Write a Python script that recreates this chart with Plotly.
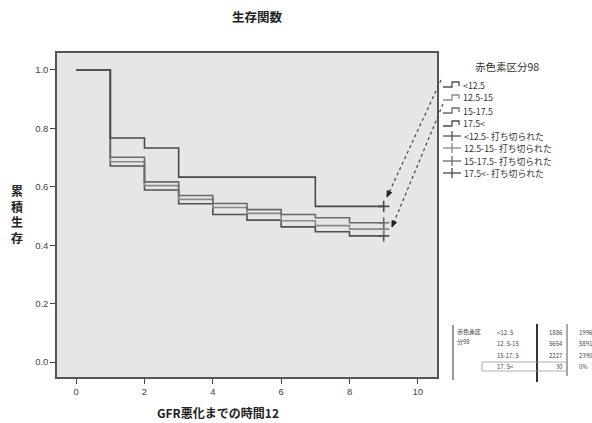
import plotly.graph_objects as go

# Kaplan-Meier survival estimates by hemoglobin category
times = [0, 1, 2, 3, 4, 5, 6, 7, 8, 9]
groups = ["<12.5", "12.5-15", "15-17.5", "17.5<"]
surv_lt125 = [1.0, 0.671, 0.589, 0.542, 0.505, 0.486, 0.463, 0.446, 0.432, 0.432]
surv_125_15 = [1.0, 0.686, 0.604, 0.557, 0.529, 0.509, 0.484, 0.467, 0.455, 0.455]
surv_15_175 = [1.0, 0.701, 0.617, 0.570, 0.543, 0.522, 0.505, 0.494, 0.477, 0.477]
surv_gt175 = [1.0, 0.767, 0.733, 0.633, 0.633, 0.633, 0.633, 0.533, 0.533, 0.533]
censor_time = [9, 9, 9, 9]

# Case summary fragment
table_labels = ["<12. 5", "12. 5-15", "15-17. 5", "17. 5<"]
table_counts = [1886, 5654, 2227, 30]
table_next = ["1996", "5891", "2390", "0%"]

series = [surv_lt125, surv_125_15, surv_15_175, surv_gt175]
colors = ["#505050", "#8a8a8a", "#6a6a6a", "#4a4a4a"]

FONT = "Noto Sans CJK JP"
W, H = 592, 423
L, R, T, B = 57, 437, 53, 377


def px(x):
    return (x - L) / (R - L)


def py(y):
    return (B - y) / (B - T)


def label(x, y, text, font, xanchor="left"):
    return dict(x=px(x), y=py(y), xref="paper", yref="paper", text=text,
                showarrow=False, xanchor=xanchor, yanchor="middle", font=font)


fig = go.Figure()
for name, s, c in zip(groups, series, colors):
    fig.add_trace(go.Scatter(x=times, y=s, mode="lines", line_shape="hv",
                             line=dict(color=c, width=1.6), name=name,
                             showlegend=False, hoverinfo="skip"))
for name, s, c, ct in zip(groups, series, colors, censor_time):
    fig.add_trace(go.Scatter(x=[ct], y=[s[times.index(ct)]], mode="markers",
                             marker=dict(symbol="cross-thin", size=8,
                                         line=dict(color=c, width=1.6)),
                             showlegend=False, hoverinfo="skip"))

shapes = []
annotations = []

# Legend
lf = dict(family=FONT, size=8.8, color="#333")
annotations.append(label(507, 67, "赤色素区分98",
                         dict(family=FONT, size=10.5, color="#333"), "center"))
legend_rows = [85, 98, 111, 124, 136, 148, 161, 173]
for i, g in enumerate(groups):
    yy = legend_rows[i]
    c = colors[i]
    path = (f"M {px(443)},{py(yy + 2)} L {px(452)},{py(yy + 2)} "
            f"L {px(452)},{py(yy - 3)} L {px(459)},{py(yy - 3)} "
            f"L {px(459)},{py(yy + 1)}")
    shapes.append(dict(type="path", path=path, xref="paper", yref="paper",
                       line=dict(color=c, width=1.3)))
    annotations.append(label(461, yy, g, lf))
for i, g in enumerate(groups):
    yy = legend_rows[4 + i]
    c = colors[i]
    shapes.append(dict(type="line", x0=px(443), x1=px(461), y0=py(yy), y1=py(yy),
                       xref="paper", yref="paper", line=dict(color=c, width=1.3)))
    shapes.append(dict(type="line", x0=px(452), x1=px(452), y0=py(yy - 5), y1=py(yy + 5),
                       xref="paper", yref="paper", line=dict(color=c, width=1.3)))
    annotations.append(label(462, yy, g + "- 打ち切られた", lf))

# Dashed pointers from legend to censored marks
for (x0, y0, x1, y1) in [(441, 80, 387, 197), (443, 104, 392, 227)]:
    shapes.append(dict(type="line", x0=px(x0), y0=py(y0), x1=px(x1), y1=py(y1),
                       xref="paper", yref="paper",
                       line=dict(color="#444", width=1.2, dash="dot")))
    dx, dy = x1 - x0, y1 - y0
    n = (dx * dx + dy * dy) ** 0.5
    ux, uy = dx / n, dy / n
    bx, by = x1 - 6 * ux, y1 - 6 * uy
    qx, qy = -uy * 2.5, ux * 2.5
    path = (f"M {px(x1)},{py(y1)} L {px(bx + qx)},{py(by + qy)} "
            f"L {px(bx - qx)},{py(by - qy)} Z")
    shapes.append(dict(type="path", path=path, xref="paper", yref="paper",
                       fillcolor="#222", line=dict(color="#222", width=1)))

# Case summary table fragment
tf = dict(family=FONT, size=6, color="#444")
shapes.append(dict(type="line", x0=px(453), x1=px(453), y0=py(325), y1=py(380),
                   xref="paper", yref="paper", line=dict(color="#555", width=1.2)))
shapes.append(dict(type="line", x0=px(537), x1=px(537), y0=py(324), y1=py(382),
                   xref="paper", yref="paper", line=dict(color="#333", width=2)))
shapes.append(dict(type="line", x0=px(567), x1=px(567), y0=py(324), y1=py(376),
                   xref="paper", yref="paper", line=dict(color="#555", width=1)))
shapes.append(dict(type="rect", x0=px(482), x1=px(567), y0=py(362), y1=py(371),
                   xref="paper", yref="paper", line=dict(color="#999", width=0.8)))
annotations.append(label(455, 331, "赤色素区", tf))
annotations.append(label(455, 341, "分98", tf))
for yy, lab, cnt, nxt in zip([332, 343, 355, 366], table_labels, table_counts, table_next):
    annotations.append(label(495, yy, lab, tf))
    annotations.append(label(565, yy, str(cnt), tf, "right"))
    annotations.append(label(577, yy, nxt, tf))

# Titles
annotations.append(label(257, 17, "<b>生存関数</b>",
                         dict(family=FONT, size=12.5, color="#222"), "center"))
annotations.append(label(218, 412, "<b>GFR悪化までの時間12</b>",
                         dict(family=FONT, size=12, color="#222"), "center"))
annotations.append(label(17, 214, "<b>累<br>積<br>生<br>存</b>",
                         dict(family=FONT, size=12, color="#222"), "center"))

fig.update_layout(
    width=W, height=H,
    margin=dict(l=L, r=W - R, t=T, b=H - B),
    paper_bgcolor="white", plot_bgcolor="#e6e6e6",
    shapes=shapes, annotations=annotations,
    xaxis=dict(range=[-0.56, 10.56], tickvals=[0, 2, 4, 6, 8, 10],
               ticks="outside", ticklen=5, tickcolor="#444", tickwidth=1.2,
               showgrid=False, zeroline=False, showline=True, mirror=True,
               linecolor="#555", linewidth=1.5,
               tickfont=dict(family="Liberation Sans", size=9.5, color="#444")),
    yaxis=dict(range=[-0.051, 1.058], tickvals=[0, 0.2, 0.4, 0.6, 0.8, 1.0],
               tickformat=".1f", ticks="outside", ticklen=5, tickcolor="#444",
               tickwidth=1.2, showgrid=False, zeroline=False, showline=True,
               mirror=True, linecolor="#555", linewidth=1.5,
               tickfont=dict(family="Liberation Sans", size=9.5, color="#444")),
)

fig.write_html("out.html")
